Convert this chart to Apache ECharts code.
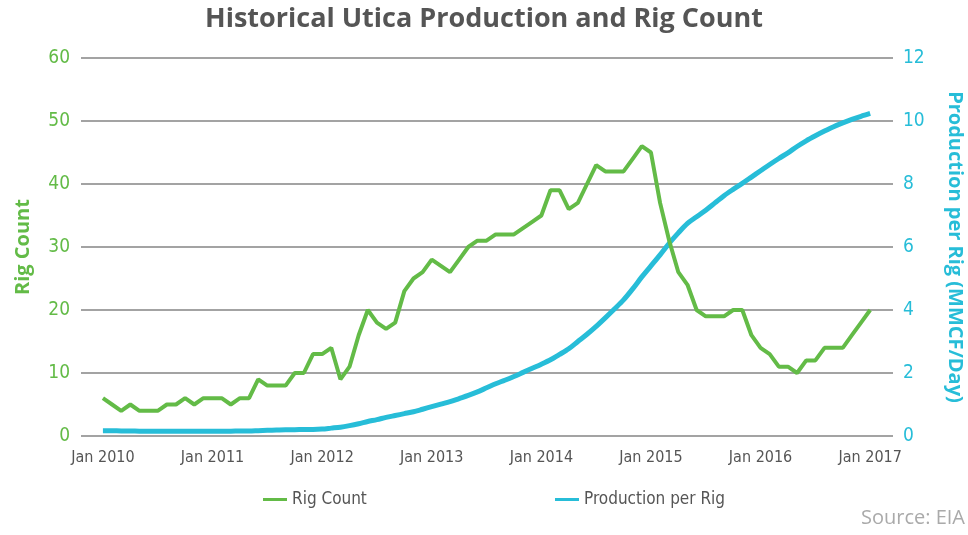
<!DOCTYPE html>
<html>
<head>
<meta charset="utf-8">
<script src="https://cdn.jsdelivr.net/npm/echarts@6/dist/echarts.min.js"></script>
<style>
  html, body { margin: 0; padding: 0; background: #fff; }
  #chart { width: 968px; height: 535px; }
</style>
</head>
<body>
<div id="chart"></div>
<script>
// monthly values, Jan 2010 .. Jan 2017
const rigCount = [
  6, 5, 4, 5, 4, 4, 4, 5, 5, 6, 5, 6,
  6, 6, 5, 6, 6, 9, 8, 8, 8, 10, 10, 13,
  13, 14, 9, 11, 16, 20, 18, 17, 18, 23, 25, 26,
  28, 27, 26, 28, 30, 31, 31, 32, 32, 32, 33, 34,
  35, 39, 39, 36, 37, 40, 43, 42, 42, 42, 44, 46,
  45, 37, 31, 26, 24, 20, 19, 19, 19, 20, 20, 16,
  14, 13, 11, 11, 10, 12, 12, 14, 14, 14, 16, 18,
  20
]
const prodPerRig = [
  0.17, 0.17, 0.16, 0.16, 0.15, 0.15, 0.15, 0.15, 0.15, 0.15, 0.15, 0.15,
  0.15, 0.15, 0.15, 0.16, 0.16, 0.17, 0.18, 0.19, 0.2, 0.2, 0.21, 0.21,
  0.22, 0.25, 0.28, 0.33, 0.39, 0.46, 0.52, 0.59, 0.65, 0.71, 0.77, 0.85,
  0.93, 1.01, 1.09, 1.19, 1.29, 1.4, 1.53, 1.66, 1.77, 1.89, 2.02, 2.15,
  2.28, 2.42, 2.59, 2.77, 3.0, 3.23, 3.48, 3.75, 4.03, 4.32, 4.67, 5.05,
  5.4, 5.75, 6.12, 6.45, 6.75, 6.96, 7.17, 7.4, 7.63, 7.83, 8.02, 8.22,
  8.42, 8.62, 8.81, 8.99, 9.19, 9.37, 9.53, 9.68, 9.82, 9.94, 10.05, 10.15,
  10.24
]
const yearLabels = ['Jan 2010', 'Jan 2011', 'Jan 2012', 'Jan 2013', 'Jan 2014', 'Jan 2015', 'Jan 2016', 'Jan 2017']

const GREEN = '#63BB47'
const BLUE = '#27BDD8'
const narrow = "'Liberation Sans Narrow', 'DejaVu Sans Condensed', 'Roboto', sans-serif"

const rigData = rigCount.map((v, i) => [i, v])
const prodData = prodPerRig.map((v, i) => [i, v])
const labelTicks = yearLabels.map((_, i) => i * 12)

const chart = echarts.init(document.getElementById('chart'))
chart.setOption({
  animation: false,
  title: {
    text: 'Historical Utica Production and Rig Count',
    left: 'center',
    top: 1,
    textStyle: { fontFamily: 'Open Sans', fontWeight: 'bold', fontSize: 27, color: '#555' },
  },
  grid: { left: 81, right: 75, top: 58, bottom: 99, outerBoundsMode: 'none', containLabel: false },
  legend: [
    {
      data: ['Rig Count'],
      left: 258,
      top: 486,
      icon: 'rect',
      itemWidth: 24,
      itemHeight: 3,
      textStyle: { fontFamily: narrow, fontSize: 17, color: '#555' },
    },
    {
      data: ['Production per Rig'],
      left: 550,
      top: 486,
      icon: 'rect',
      itemWidth: 24,
      itemHeight: 3,
      textStyle: { fontFamily: narrow, fontSize: 17, color: '#555' },
    },
  ],
  graphic: [
    {
      type: 'text',
      right: 3,
      top: 508,
      style: { text: 'Source: EIA', fontFamily: 'Open Sans', fontSize: 20, fill: '#aaa' },
    },
  ],
  xAxis: {
    type: 'value',
    min: -2.4,
    max: 86.5,
    axisLine: { show: false },
    axisTick: { show: false },
    splitLine: { show: false },
    axisLabel: {
      customValues: labelTicks,
      formatter: v => yearLabels[Math.round(v / 12)],
      fontFamily: narrow,
      fontSize: 16,
      color: '#555',
      margin: 14,
    },
  },
  yAxis: [
    {
      type: 'value',
      min: 0,
      max: 60,
      interval: 10,
      name: 'Rig Count',
      nameLocation: 'middle',
      nameGap: 48,
      nameTextStyle: { fontFamily: 'Open Sans', fontWeight: 'bold', fontSize: 20, color: GREEN },
      axisLine: { show: false },
      axisTick: { show: false },
      axisLabel: { fontFamily: narrow, fontSize: 19, color: GREEN, margin: 11 },
      splitLine: { lineStyle: { color: '#858585', width: 1.5 } },
    },
    {
      type: 'value',
      min: 0,
      max: 12,
      interval: 2,
      name: 'Production per Rig (MMCF/Day)',
      nameLocation: 'middle',
      nameRotate: -90,
      nameGap: 52,
      nameTextStyle: { fontFamily: 'Open Sans', fontWeight: 'bold', fontSize: 20, color: BLUE },
      axisLine: { show: false },
      axisTick: { show: false },
      axisLabel: { fontFamily: narrow, fontSize: 19, color: BLUE, margin: 10 },
      splitLine: { show: false },
    },
  ],
  series: [
    {
      name: 'Rig Count',
      type: 'line',
      yAxisIndex: 0,
      data: rigData,
      showSymbol: false,
      lineStyle: { color: GREEN, width: 4 },
      itemStyle: { color: GREEN },
      z: 3,
    },
    {
      name: 'Production per Rig',
      type: 'line',
      yAxisIndex: 1,
      data: prodData,
      smooth: 0.3,
      showSymbol: false,
      lineStyle: { color: BLUE, width: 5 },
      itemStyle: { color: BLUE },
      z: 2,
    },
  ],
})
</script>
</body>
</html>
